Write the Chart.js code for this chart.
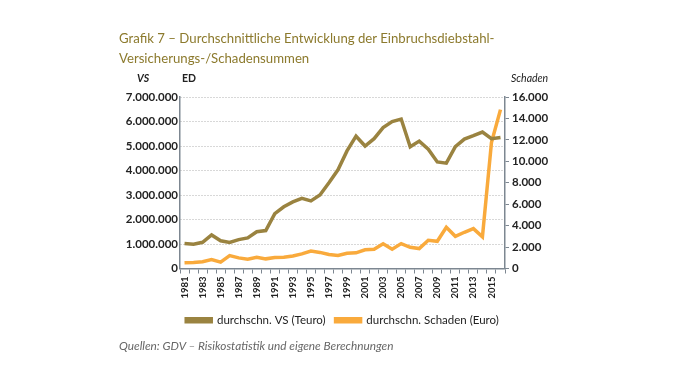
<!DOCTYPE html>
<html>
<head>
<meta charset="utf-8">
<script src="https://cdn.jsdelivr.net/npm/chart.js@4/dist/chart.umd.min.js"></script>
<style>
  html, body { margin: 0; padding: 0; background: #fff; }
  #wrap { position: relative; width: 674px; height: 380px; overflow: hidden; font-family: Lato, "Open Sans", sans-serif; }
  canvas { position: absolute; left: 0; top: 0; }
  .t { position: absolute; white-space: nowrap; }
  #title { left: 119px; top: 28px; font-size: 13.2px; line-height: 20px; color: #8c7a2d; }
  #vs { left: 137px; top: 72px; font-size: 10.5px; font-style: italic; font-weight: bold; color: #222; }
  #ed { left: 182px; top: 72px; font-size: 10.5px; font-weight: bold; color: #222; }
  #sch { left: 511px; top: 72px; font-size: 10.5px; font-style: italic; color: #222; }
  #src { left: 119px; top: 338px; font-size: 11.8px; font-style: italic; color: #666; }
</style>
</head>
<body>
<div id="wrap">
  <canvas id="c" width="674" height="380"></canvas>
  <div class="t" id="title">Grafik 7 – Durchschnittliche Entwicklung der Einbruchsdiebstahl-<br>Versicherungs-/Schadensummen</div>
  <div class="t" id="vs">VS</div>
  <div class="t" id="ed">ED</div>
  <div class="t" id="sch">Schaden</div>
  <div class="t" id="src">Quellen: GDV – Risikostatistik und eigene Berechnungen</div>
</div>
<script>
const years = ["1981","1982","1983","1984","1985","1986","1987","1988","1989","1990",
  "1991","1992","1993","1994","1995","1996","1997","1998","1999","2000",
  "2001","2002","2003","2004","2005","2006","2007","2008","2009","2010",
  "2011","2012","2013","2014","2015","2016"];
const vsValues = [1020000,990000,1070000,1370000,1130000,1060000,1180000,1250000,1500000,1550000,
  2240000,2520000,2720000,2860000,2760000,3000000,3500000,4030000,4800000,5400000,
  5000000,5300000,5750000,6000000,6100000,4970000,5200000,4870000,4350000,4300000,
  4970000,5280000,5420000,5570000,5300000,5350000];
const schadenValues = [540,570,630,840,590,1200,990,870,1050,900,
  1020,1050,1170,1360,1620,1500,1300,1210,1420,1460,
  1740,1800,2300,1790,2320,1980,1860,2630,2540,3840,
  3000,3380,3720,2950,11750,14820];
const seriesNames = ["durchschn. VS (Teuro)", "durchschn. Schaden (Euro)"];

function fmtDE(v) {
  return String(Math.round(v)).replace(/\B(?=(\d{3})+(?!\d))/g, ".");
}

const axisColor = "#7d8791";
const tickFont = { family: "Lato, 'Open Sans', sans-serif", size: 11.5, weight: "bold" };

new Chart(document.getElementById("c"), {
  type: "line",
  data: {
    labels: years,
    datasets: [
      { label: seriesNames[0], data: vsValues, yAxisID: "y", borderColor: "#9a8340", backgroundColor: "#9a8340",
        borderWidth: 3.5, pointRadius: 0, tension: 0 },
      { label: seriesNames[1], data: schadenValues, yAxisID: "y2", borderColor: "#f9aa3c", backgroundColor: "#f9aa3c",
        borderWidth: 3.5, pointRadius: 0, tension: 0 }
    ]
  },
  options: {
    responsive: false,
    animation: false,
    layout: { padding: { top: 97, left: 20, right: 9, bottom: 44 } },
    plugins: {
      legend: {
        position: "bottom",
        labels: {
          boxWidth: 25, boxHeight: 3, padding: 10,
          color: "#222",
          font: { family: "Lato, 'Open Sans', sans-serif", size: 11.5 }
        }
      },
      tooltip: { enabled: false }
    },
    scales: {
      x: {
        offset: true,
        grid: { display: true, drawOnChartArea: false, offset: true, tickLength: 5, color: axisColor, lineWidth: 1 },
        border: { display: true, color: axisColor, width: 1.5 },
        ticks: {
          autoSkip: false, minRotation: 90, maxRotation: 90, padding: 3,
          color: "#222", font: { family: "Lato, 'Open Sans', sans-serif", size: 9.5, weight: "bold" },
          callback: function (v, i) { return i % 2 === 0 ? years[i] : ""; }
        },
        afterFit: function (s) { s.height = 36; }
      },
      y: {
        position: "left",
        min: 0, max: 7000000,
        ticks: { stepSize: 1000000, color: "#222", font: tickFont, padding: 2, callback: function (v) { return fmtDE(v); } },
        grid: { drawOnChartArea: true, drawTicks: false, tickLength: 0, color: "#b0b0b0", lineWidth: 1 },
        border: { display: true, color: axisColor, width: 1.5, dash: [1, 2] },
        afterFit: function (s) { s.width = 160; }
      },
      y2: {
        position: "right",
        min: 0, max: 16000,
        ticks: { stepSize: 2000, color: "#222", font: tickFont, padding: 3, callback: function (v) { return fmtDE(v); } },
        grid: { drawOnChartArea: false, drawTicks: true, tickLength: 4, color: axisColor, lineWidth: 1 },
        border: { display: true, color: axisColor, width: 1.5 },
        afterFit: function (s) { s.width = 160; }
      }
    }
  }
});
</script>
</body>
</html>
